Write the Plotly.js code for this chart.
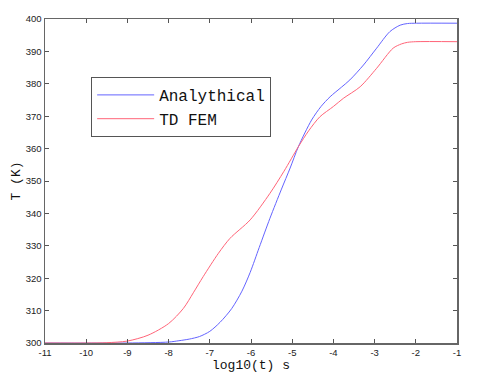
<!DOCTYPE html>
<html>
<head>
<meta charset="utf-8">
<script src="https://cdn.plot.ly/plotly-3.0.1.min.js"></script>
<style>html,body{margin:0;padding:0;background:#fff;}#chart{width:500px;height:382px;}</style>
</head>
<body>
<div id="chart"></div>
<script>
const xTicks = [-11, -10, -9, -8, -7, -6, -5, -4, -3, -2, -1];
const yTicks = [300, 310, 320, 330, 340, 350, 360, 370, 380, 390, 400];

const analyticalX = [-11, -9, -8, -7.75, -7.5, -7.25, -7, -6.75, -6.47, -6.22, -6.02, -5.8, -5.54, -5.26, -5.05, -4.85, -4.53, -4.3, -4.08, -3.8, -3.6, -3.27, -2.95, -2.63, -2.38, -2.2, -1.98, -1];
const analyticalT = [300, 300, 300.3, 300.7, 301.2, 302, 303.6, 306.4, 310.6, 316, 321.8, 329.5, 338.5, 347.5, 354, 360.6, 368.8, 373, 376, 379, 381.2, 385.8, 391, 396.1, 398.1, 398.6, 398.7, 398.7];

const femX = [-11, -10, -9.5, -9, -8.5, -8, -7.64, -7.4, -7.16, -6.79, -6.51, -6.02, -5.54, -5.2, -4.85, -4.6, -4.33, -4.0, -3.76, -3.35, -2.95, -2.55, -2.35, -2.2, -2.0, -1];
const femT = [300, 300, 300.1, 300.6, 302.4, 306, 310.7, 315.5, 320.5, 327.7, 332.3, 338, 346.2, 353, 360.6, 365.5, 369.8, 373, 375.5, 379.1, 384.8, 391, 392.3, 392.8, 393, 393];

const traces = [
  {x: analyticalX, y: analyticalT, name: 'Analythical', mode: 'lines',
   line: {color: '#6464ff', width: 1, shape: 'spline', smoothing: 0.8}},
  {x: femX, y: femT, name: 'TD FEM', mode: 'lines',
   line: {color: '#ff6478', width: 1, shape: 'spline', smoothing: 0.8}}
];

const axisCommon = {
  showgrid: false, zeroline: false, showline: true, mirror: 'ticks',
  linecolor: '#666', linewidth: 1.5, ticks: 'inside', ticklen: 4,
  tickcolor: '#555', tickwidth: 1,
  tickfont: {family: 'Liberation Sans, Arial, sans-serif', size: 9.5, color: '#222'}
};

const layout = {
  width: 500, height: 382,
  margin: {l: 45, r: 43, t: 19, b: 39},
  paper_bgcolor: '#fff', plot_bgcolor: '#fff',
  showlegend: true,
  legend: {x: 0.112, y: 0.821, xanchor: 'left', yanchor: 'top',
    bgcolor: '#fff', bordercolor: '#555', borderwidth: 1,
    itemwidth: 57,
    font: {family: 'Liberation Mono, Courier New, monospace', size: 16, color: '#111'},
    tracegroupgap: 0},
  xaxis: Object.assign({}, axisCommon, {
    range: [-11, -1], tickvals: xTicks, ticktext: xTicks.map(String),
    title: {text: 'log10(t) s', standoff: 2,
      font: {family: 'Liberation Mono, Courier New, monospace', size: 13, color: '#111'}}
  }),
  yaxis: Object.assign({}, axisCommon, {
    range: [300, 400], tickvals: yTicks, ticktext: yTicks.map(String),
    title: {text: 'T (K)', standoff: 2,
      font: {family: 'Liberation Mono, Courier New, monospace', size: 13, color: '#111'}}
  })
};

Plotly.newPlot('chart', traces, layout, {displayModeBar: false, staticPlot: true});
</script>
</body>
</html>
